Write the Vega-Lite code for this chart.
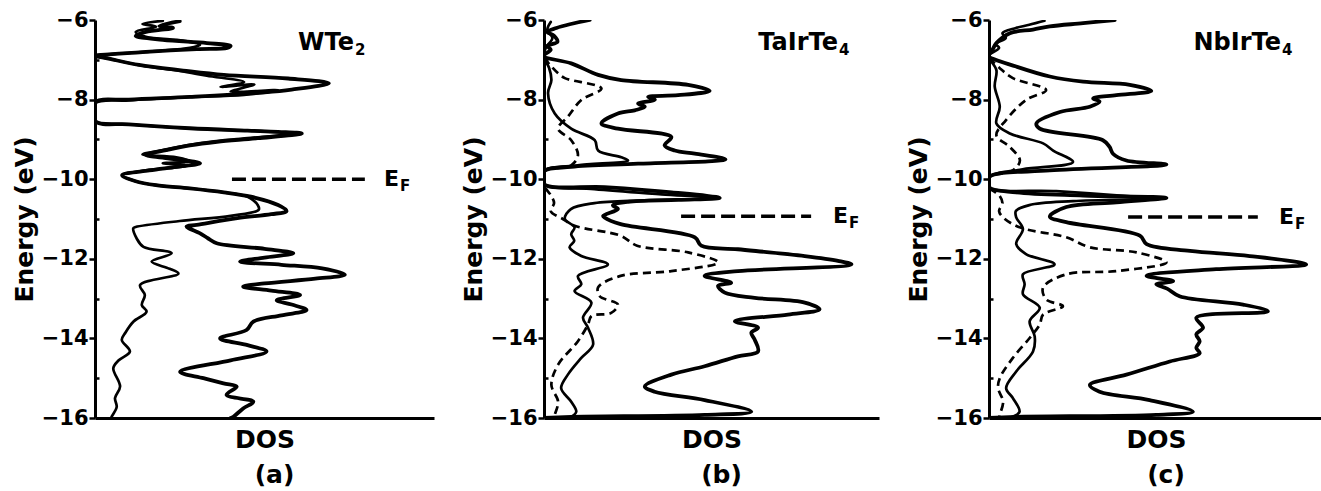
{
"$schema":"https://vega.github.io/schema/vega-lite/v6.json",
"background":"white",
"padding":{"left":12,"top":9,"right":0,"bottom":0},
"bounds":"flush",
"spacing":110,
"config":{"view":{"stroke":null},"font":"DejaVu Sans",
 "axis":{"grid":false,"domainColor":"black","domainWidth":3,"tickColor":"black","tickWidth":2.5,"labelFont":"DejaVu Sans","labelFontWeight":"bold","labelFontSize":21,"labelColor":"black","labelPadding":1,"titleFont":"DejaVu Sans","titleFontWeight":"bold","titleFontSize":25,"titleColor":"black"},
 "title":{"font":"DejaVu Sans","fontWeight":"bold","fontSize":25,"color":"black","orient":"bottom","anchor":"middle","offset":11,"dx":10},
 "line":{"color":"black","strokeJoin":"round","strokeCap":"round"},
 "text":{"color":"black","font":"DejaVu Sans","fontWeight":"bold"}},
"datasets":{
"dos":[
{"p":"a","s":"t","D":25,"E":-6.03},{"p":"a","s":"t","D":19,"E":-6.15},{"p":"a","s":"t","D":23,"E":-6.2},{"p":"a","s":"t","D":15,"E":-6.3},{"p":"a","s":"t","D":12,"E":-6.4},{"p":"a","s":"t","D":20,"E":-6.5},{"p":"a","s":"t","D":33,"E":-6.58},{"p":"a","s":"t","D":40,"E":-6.65},{"p":"a","s":"t","D":39,"E":-6.7},{"p":"a","s":"t","D":30,"E":-6.73},{"p":"a","s":"t","D":15,"E":-6.8},{"p":"a","s":"t","D":5,"E":-6.86},{"p":"a","s":"t","D":0,"E":-6.9},
{"p":"a","s":"t","D":4,"E":-6.97},{"p":"a","s":"t","D":13,"E":-7.13},{"p":"a","s":"t","D":26,"E":-7.27},{"p":"a","s":"t","D":38,"E":-7.38},{"p":"a","s":"t","D":57,"E":-7.47},{"p":"a","s":"t","D":69,"E":-7.59},{"p":"a","s":"t","D":58,"E":-7.75},{"p":"a","s":"t","D":50,"E":-7.82},{"p":"a","s":"t","D":28,"E":-7.93},{"p":"a","s":"t","D":10,"E":-8.0},{"p":"a","s":"t","D":0,"E":-8.07},
{"p":"a","s":"t","D":0,"E":-8.54},{"p":"a","s":"t","D":10,"E":-8.62},{"p":"a","s":"t","D":28,"E":-8.72},{"p":"a","s":"t","D":45,"E":-8.78},{"p":"a","s":"t","D":54,"E":-8.81},{"p":"a","s":"t","D":61,"E":-8.85},{"p":"a","s":"t","D":48,"E":-8.97},{"p":"a","s":"t","D":36,"E":-9.06},{"p":"a","s":"t","D":28,"E":-9.15},{"p":"a","s":"t","D":21,"E":-9.27},{"p":"a","s":"t","D":15,"E":-9.39},{"p":"a","s":"t","D":22,"E":-9.48},{"p":"a","s":"t","D":31,"E":-9.6},{"p":"a","s":"t","D":24,"E":-9.69},{"p":"a","s":"t","D":16,"E":-9.78},{"p":"a","s":"t","D":8,"E":-9.9},
{"p":"a","s":"t","D":12,"E":-10.05},{"p":"a","s":"t","D":18,"E":-10.15},{"p":"a","s":"t","D":28,"E":-10.23},{"p":"a","s":"t","D":38,"E":-10.33},{"p":"a","s":"t","D":46,"E":-10.44},{"p":"a","s":"t","D":54,"E":-10.65},{"p":"a","s":"t","D":56.5,"E":-10.8},{"p":"a","s":"t","D":52,"E":-10.88},{"p":"a","s":"t","D":42,"E":-10.98},{"p":"a","s":"t","D":30,"E":-11.15},{"p":"a","s":"t","D":27,"E":-11.19},{"p":"a","s":"t","D":31,"E":-11.36},{"p":"a","s":"t","D":33.4,"E":-11.49},{"p":"a","s":"t","D":35.9,"E":-11.61},{"p":"a","s":"t","D":50,"E":-11.75},{"p":"a","s":"t","D":58.5,"E":-11.86},{"p":"a","s":"t","D":50,"E":-11.97},{"p":"a","s":"t","D":42.8,"E":-12.07},{"p":"a","s":"t","D":55,"E":-12.15},{"p":"a","s":"t","D":67,"E":-12.24},{"p":"a","s":"t","D":73.7,"E":-12.4},{"p":"a","s":"t","D":65,"E":-12.5},{"p":"a","s":"t","D":50,"E":-12.62},{"p":"a","s":"t","D":43.7,"E":-12.7},{"p":"a","s":"t","D":52,"E":-12.8},{"p":"a","s":"t","D":60.5,"E":-12.91},{"p":"a","s":"t","D":53.6,"E":-13.04},{"p":"a","s":"t","D":58,"E":-13.15},{"p":"a","s":"t","D":62.4,"E":-13.29},{"p":"a","s":"t","D":55,"E":-13.42},{"p":"a","s":"t","D":46.7,"E":-13.58},{"p":"a","s":"t","D":44.7,"E":-13.79},{"p":"a","s":"t","D":36.9,"E":-14.0},{"p":"a","s":"t","D":45,"E":-14.17},{"p":"a","s":"t","D":50.6,"E":-14.33},{"p":"a","s":"t","D":40,"E":-14.55},{"p":"a","s":"t","D":25.1,"E":-14.84},{"p":"a","s":"t","D":32,"E":-15.0},{"p":"a","s":"t","D":37.9,"E":-15.13},{"p":"a","s":"t","D":41.8,"E":-15.21},{"p":"a","s":"t","D":38.8,"E":-15.42},{"p":"a","s":"t","D":46.7,"E":-15.59},{"p":"a","s":"t","D":43.7,"E":-15.76},{"p":"a","s":"t","D":40.8,"E":-15.97},{"p":"a","s":"t","D":40,"E":-16.0},
{"p":"a","s":"i","D":20,"E":-6.02},{"p":"a","s":"i","D":14,"E":-6.1},{"p":"a","s":"i","D":18,"E":-6.17},{"p":"a","s":"i","D":12,"E":-6.3},{"p":"a","s":"i","D":15,"E":-6.42},{"p":"a","s":"i","D":26,"E":-6.52},{"p":"a","s":"i","D":31,"E":-6.62},{"p":"a","s":"i","D":28,"E":-6.7},{"p":"a","s":"i","D":18,"E":-6.78},{"p":"a","s":"i","D":6,"E":-6.85},{"p":"a","s":"i","D":0,"E":-6.9},
{"p":"a","s":"i","D":4,"E":-6.97},{"p":"a","s":"i","D":14,"E":-7.15},{"p":"a","s":"i","D":25,"E":-7.28},{"p":"a","s":"i","D":33,"E":-7.4},{"p":"a","s":"i","D":44,"E":-7.56},{"p":"a","s":"i","D":37,"E":-7.68},{"p":"a","s":"i","D":47,"E":-7.62},{"p":"a","s":"i","D":40,"E":-7.8},{"p":"a","s":"i","D":54,"E":-7.76},{"p":"a","s":"i","D":44,"E":-7.88},{"p":"a","s":"i","D":27,"E":-7.94},{"p":"a","s":"i","D":10,"E":-8.02},{"p":"a","s":"i","D":0,"E":-8.1},
{"p":"a","s":"i","D":0,"E":-8.54},{"p":"a","s":"i","D":10,"E":-8.62},{"p":"a","s":"i","D":27,"E":-8.72},{"p":"a","s":"i","D":50,"E":-8.8},{"p":"a","s":"i","D":58,"E":-8.85},{"p":"a","s":"i","D":45,"E":-8.97},{"p":"a","s":"i","D":34,"E":-9.06},{"p":"a","s":"i","D":27,"E":-9.15},{"p":"a","s":"i","D":20,"E":-9.27},{"p":"a","s":"i","D":14,"E":-9.38},{"p":"a","s":"i","D":24,"E":-9.45},{"p":"a","s":"i","D":28,"E":-9.55},{"p":"a","s":"i","D":20,"E":-9.6},{"p":"a","s":"i","D":27,"E":-9.66},{"p":"a","s":"i","D":15,"E":-9.78},{"p":"a","s":"i","D":8,"E":-9.9},
{"p":"a","s":"i","D":12,"E":-10.05},{"p":"a","s":"i","D":18,"E":-10.15},{"p":"a","s":"i","D":28,"E":-10.23},{"p":"a","s":"i","D":38,"E":-10.33},{"p":"a","s":"i","D":45,"E":-10.44},{"p":"a","s":"i","D":48,"E":-10.65},{"p":"a","s":"i","D":48.3,"E":-10.77},{"p":"a","s":"i","D":40,"E":-10.92},{"p":"a","s":"i","D":25,"E":-11.05},{"p":"a","s":"i","D":12,"E":-11.2},
{"p":"a","s":"i","D":11.3,"E":-11.23},{"p":"a","s":"i","D":12.3,"E":-11.49},{"p":"a","s":"i","D":14.3,"E":-11.7},{"p":"a","s":"i","D":22.6,"E":-11.86},{"p":"a","s":"i","D":16.7,"E":-12.07},{"p":"a","s":"i","D":22,"E":-12.25},{"p":"a","s":"i","D":24.6,"E":-12.37},{"p":"a","s":"i","D":13.3,"E":-12.66},{"p":"a","s":"i","D":14.7,"E":-12.91},{"p":"a","s":"i","D":13.8,"E":-13.16},{"p":"a","s":"i","D":15.2,"E":-13.33},{"p":"a","s":"i","D":11.3,"E":-13.58},{"p":"a","s":"i","D":9,"E":-13.85},{"p":"a","s":"i","D":7.9,"E":-14.04},{"p":"a","s":"i","D":10.3,"E":-14.33},{"p":"a","s":"i","D":7,"E":-14.55},{"p":"a","s":"i","D":5.4,"E":-14.75},{"p":"a","s":"i","D":7.4,"E":-15.21},{"p":"a","s":"i","D":5.9,"E":-15.5},{"p":"a","s":"i","D":6.4,"E":-15.72},{"p":"a","s":"i","D":4.9,"E":-15.97},{"p":"a","s":"i","D":4.8,"E":-16},
{"p":"b","s":"t","D":13.6,"E":-6.0},{"p":"b","s":"t","D":8,"E":-6.1},{"p":"b","s":"t","D":3.7,"E":-6.2},{"p":"b","s":"t","D":1,"E":-6.3},{"p":"b","s":"t","D":3,"E":-6.4},{"p":"b","s":"t","D":4,"E":-6.55},{"p":"b","s":"t","D":1,"E":-6.65},{"p":"b","s":"t","D":2,"E":-6.75},{"p":"b","s":"t","D":0,"E":-6.88},
{"p":"b","s":"t","D":0,"E":-6.92},{"p":"b","s":"t","D":8.1,"E":-7.09},{"p":"b","s":"t","D":16.1,"E":-7.38},{"p":"b","s":"t","D":23,"E":-7.51},{"p":"b","s":"t","D":42.9,"E":-7.63},{"p":"b","s":"t","D":49.3,"E":-7.78},{"p":"b","s":"t","D":39.9,"E":-7.89},{"p":"b","s":"t","D":31,"E":-7.93},{"p":"b","s":"t","D":33,"E":-8.0},{"p":"b","s":"t","D":28,"E":-8.1},{"p":"b","s":"t","D":30,"E":-8.18},{"p":"b","s":"t","D":27,"E":-8.27},{"p":"b","s":"t","D":22,"E":-8.35},{"p":"b","s":"t","D":17.1,"E":-8.6},{"p":"b","s":"t","D":22,"E":-8.73},{"p":"b","s":"t","D":37.9,"E":-8.94},{"p":"b","s":"t","D":35.9,"E":-9.15},{"p":"b","s":"t","D":38.9,"E":-9.28},{"p":"b","s":"t","D":44.9,"E":-9.36},{"p":"b","s":"t","D":54,"E":-9.5},{"p":"b","s":"t","D":28,"E":-9.61},{"p":"b","s":"t","D":8.1,"E":-9.69},{"p":"b","s":"t","D":0,"E":-9.8},
{"p":"b","s":"t","D":0,"E":-10.12},{"p":"b","s":"t","D":18,"E":-10.2},{"p":"b","s":"t","D":38,"E":-10.33},{"p":"b","s":"t","D":52.3,"E":-10.47},{"p":"b","s":"t","D":40,"E":-10.52},{"p":"b","s":"t","D":25,"E":-10.57},{"p":"b","s":"t","D":20.5,"E":-10.66},{"p":"b","s":"t","D":22,"E":-10.75},{"p":"b","s":"t","D":17.6,"E":-10.92},{"p":"b","s":"t","D":18,"E":-10.96},{"p":"b","s":"t","D":22.8,"E":-11.13},{"p":"b","s":"t","D":44.9,"E":-11.46},{"p":"b","s":"t","D":46.8,"E":-11.67},{"p":"b","s":"t","D":57.7,"E":-11.76},{"p":"b","s":"t","D":77.6,"E":-11.93},{"p":"b","s":"t","D":87.5,"E":-12.05},{"p":"b","s":"t","D":91.5,"E":-12.14},{"p":"b","s":"t","D":57.7,"E":-12.31},{"p":"b","s":"t","D":47.8,"E":-12.43},{"p":"b","s":"t","D":55.7,"E":-12.6},{"p":"b","s":"t","D":51.8,"E":-12.68},{"p":"b","s":"t","D":53.8,"E":-12.85},{"p":"b","s":"t","D":62.7,"E":-12.98},{"p":"b","s":"t","D":77.6,"E":-13.1},{"p":"b","s":"t","D":82,"E":-13.27},{"p":"b","s":"t","D":72.6,"E":-13.4},{"p":"b","s":"t","D":56.8,"E":-13.57},{"p":"b","s":"t","D":63.7,"E":-13.73},{"p":"b","s":"t","D":61.7,"E":-13.86},{"p":"b","s":"t","D":62.7,"E":-14.03},{"p":"b","s":"t","D":63.7,"E":-14.33},{"p":"b","s":"t","D":57.7,"E":-14.45},{"p":"b","s":"t","D":47.8,"E":-14.7},{"p":"b","s":"t","D":37.9,"E":-14.91},{"p":"b","s":"t","D":30,"E":-15.21},{"p":"b","s":"t","D":32.9,"E":-15.34},{"p":"b","s":"t","D":47.8,"E":-15.55},{"p":"b","s":"t","D":61.7,"E":-15.84},{"p":"b","s":"t","D":47.8,"E":-15.92},{"p":"b","s":"t","D":8.1,"E":-15.97},{"p":"b","s":"t","D":0,"E":-16},
{"p":"b","s":"i","D":2,"E":-6.05},{"p":"b","s":"i","D":1,"E":-6.25},{"p":"b","s":"i","D":2.5,"E":-6.45},{"p":"b","s":"i","D":0.5,"E":-6.7},{"p":"b","s":"i","D":0,"E":-6.88},
{"p":"b","s":"i","D":0,"E":-6.95},{"p":"b","s":"i","D":1.5,"E":-7.2},{"p":"b","s":"i","D":2.2,"E":-7.51},{"p":"b","s":"i","D":1.2,"E":-7.84},{"p":"b","s":"i","D":3.2,"E":-8.35},{"p":"b","s":"i","D":8.1,"E":-8.73},{"p":"b","s":"i","D":15.1,"E":-9.02},{"p":"b","s":"i","D":16.1,"E":-9.28},{"p":"b","s":"i","D":23,"E":-9.45},{"p":"b","s":"i","D":25,"E":-9.53},{"p":"b","s":"i","D":10,"E":-9.65},{"p":"b","s":"i","D":0,"E":-9.8},
{"p":"b","s":"i","D":0,"E":-10.12},{"p":"b","s":"i","D":15,"E":-10.25},{"p":"b","s":"i","D":35,"E":-10.38},{"p":"b","s":"i","D":50,"E":-10.47},{"p":"b","s":"i","D":30,"E":-10.53},{"p":"b","s":"i","D":15,"E":-10.6},{"p":"b","s":"i","D":8,"E":-10.75},{"p":"b","s":"i","D":6.2,"E":-11.0},{"p":"b","s":"i","D":9.1,"E":-11.21},{"p":"b","s":"i","D":8.1,"E":-11.38},{"p":"b","s":"i","D":9,"E":-11.55},{"p":"b","s":"i","D":7.6,"E":-11.71},{"p":"b","s":"i","D":11.1,"E":-11.93},{"p":"b","s":"i","D":19,"E":-12.14},{"p":"b","s":"i","D":10.1,"E":-12.43},{"p":"b","s":"i","D":11.1,"E":-12.64},{"p":"b","s":"i","D":9.1,"E":-12.81},{"p":"b","s":"i","D":14.1,"E":-13.1},{"p":"b","s":"i","D":11.6,"E":-13.48},{"p":"b","s":"i","D":13.1,"E":-13.73},{"p":"b","s":"i","D":14.6,"E":-14.16},{"p":"b","s":"i","D":11.1,"E":-14.49},{"p":"b","s":"i","D":7.1,"E":-14.91},{"p":"b","s":"i","D":5.1,"E":-15.25},{"p":"b","s":"i","D":8.1,"E":-15.59},{"p":"b","s":"i","D":9.6,"E":-15.84},{"p":"b","s":"i","D":8.1,"E":-15.97},{"p":"b","s":"i","D":7,"E":-16},
{"p":"b","s":"d","D":0,"E":-6.95},{"p":"b","s":"d","D":2,"E":-7.15},{"p":"b","s":"d","D":4.2,"E":-7.34},{"p":"b","s":"d","D":6.2,"E":-7.46},{"p":"b","s":"d","D":17.1,"E":-7.72},{"p":"b","s":"d","D":11.1,"E":-8.01},{"p":"b","s":"d","D":7.1,"E":-8.43},{"p":"b","s":"d","D":4.2,"E":-8.73},{"p":"b","s":"d","D":8.1,"E":-9.02},{"p":"b","s":"d","D":10.1,"E":-9.4},{"p":"b","s":"d","D":8.1,"E":-9.65},{"p":"b","s":"d","D":0,"E":-9.8},
{"p":"b","s":"d","D":0,"E":-10.15},{"p":"b","s":"d","D":2,"E":-10.4},{"p":"b","s":"d","D":3,"E":-10.6},{"p":"b","s":"d","D":2,"E":-10.8},{"p":"b","s":"d","D":5.6,"E":-11.0},{"p":"b","s":"d","D":9.1,"E":-11.17},{"p":"b","s":"d","D":22.8,"E":-11.42},{"p":"b","s":"d","D":27.7,"E":-11.67},{"p":"b","s":"d","D":42.9,"E":-11.84},{"p":"b","s":"d","D":51.8,"E":-12.09},{"p":"b","s":"d","D":37.9,"E":-12.31},{"p":"b","s":"d","D":22.8,"E":-12.43},{"p":"b","s":"d","D":16.1,"E":-12.72},{"p":"b","s":"d","D":16.6,"E":-12.94},{"p":"b","s":"d","D":22,"E":-13.15},{"p":"b","s":"d","D":20,"E":-13.36},{"p":"b","s":"d","D":14.1,"E":-13.44},{"p":"b","s":"d","D":13.1,"E":-13.65},{"p":"b","s":"d","D":10.1,"E":-14.07},{"p":"b","s":"d","D":4.2,"E":-14.66},{"p":"b","s":"d","D":2.2,"E":-15.17},{"p":"b","s":"d","D":4.2,"E":-15.59},{"p":"b","s":"d","D":3.2,"E":-15.92},{"p":"b","s":"d","D":3,"E":-16},
{"p":"c","s":"t","D":37.4,"E":-6.0},{"p":"c","s":"t","D":28,"E":-6.08},{"p":"c","s":"t","D":18.1,"E":-6.16},{"p":"c","s":"t","D":13.1,"E":-6.24},{"p":"c","s":"t","D":6.2,"E":-6.33},{"p":"c","s":"t","D":2.2,"E":-6.58},{"p":"c","s":"t","D":1,"E":-6.75},{"p":"c","s":"t","D":0,"E":-6.88},
{"p":"c","s":"t","D":0,"E":-6.92},{"p":"c","s":"t","D":8.1,"E":-7.17},{"p":"c","s":"t","D":18.1,"E":-7.42},{"p":"c","s":"t","D":28,"E":-7.55},{"p":"c","s":"t","D":41.9,"E":-7.63},{"p":"c","s":"t","D":48.3,"E":-7.78},{"p":"c","s":"t","D":37.9,"E":-7.89},{"p":"c","s":"t","D":31,"E":-7.97},{"p":"c","s":"t","D":32.9,"E":-8.05},{"p":"c","s":"t","D":30,"E":-8.18},{"p":"c","s":"t","D":21.1,"E":-8.31},{"p":"c","s":"t","D":14.1,"E":-8.6},{"p":"c","s":"t","D":15.1,"E":-8.73},{"p":"c","s":"t","D":33.9,"E":-9.02},{"p":"c","s":"t","D":35.9,"E":-9.19},{"p":"c","s":"t","D":36.9,"E":-9.36},{"p":"c","s":"t","D":40.9,"E":-9.53},{"p":"c","s":"t","D":52.8,"E":-9.63},{"p":"c","s":"t","D":18.1,"E":-9.78},{"p":"c","s":"t","D":0,"E":-9.95},
{"p":"c","s":"t","D":0,"E":-10.2},{"p":"c","s":"t","D":8.1,"E":-10.33},{"p":"c","s":"t","D":28,"E":-10.41},{"p":"c","s":"t","D":52.8,"E":-10.47},{"p":"c","s":"t","D":37.9,"E":-10.58},{"p":"c","s":"t","D":23,"E":-10.7},{"p":"c","s":"t","D":18.1,"E":-10.94},{"p":"c","s":"t","D":23,"E":-11.08},{"p":"c","s":"t","D":44.9,"E":-11.42},{"p":"c","s":"t","D":46.9,"E":-11.63},{"p":"c","s":"t","D":59.8,"E":-11.8},{"p":"c","s":"t","D":77.6,"E":-11.93},{"p":"c","s":"t","D":94.4,"E":-12.14},{"p":"c","s":"t","D":67.6,"E":-12.26},{"p":"c","s":"t","D":46.9,"E":-12.43},{"p":"c","s":"t","D":54.8,"E":-12.56},{"p":"c","s":"t","D":49.8,"E":-12.64},{"p":"c","s":"t","D":53,"E":-12.75},{"p":"c","s":"t","D":56.7,"E":-12.94},{"p":"c","s":"t","D":75.6,"E":-13.15},{"p":"c","s":"t","D":83,"E":-13.32},{"p":"c","s":"t","D":61.7,"E":-13.48},{"p":"c","s":"t","D":63.7,"E":-13.73},{"p":"c","s":"t","D":61.7,"E":-13.9},{"p":"c","s":"t","D":62.7,"E":-14.07},{"p":"c","s":"t","D":61.7,"E":-14.24},{"p":"c","s":"t","D":62.7,"E":-14.37},{"p":"c","s":"t","D":53.8,"E":-14.58},{"p":"c","s":"t","D":40.9,"E":-14.91},{"p":"c","s":"t","D":30,"E":-15.17},{"p":"c","s":"t","D":32.9,"E":-15.34},{"p":"c","s":"t","D":47.8,"E":-15.55},{"p":"c","s":"t","D":60.7,"E":-15.84},{"p":"c","s":"t","D":49.8,"E":-15.92},{"p":"c","s":"t","D":8,"E":-15.97},{"p":"c","s":"t","D":0,"E":-16},
{"p":"c","s":"i","D":16.5,"E":-6.02},{"p":"c","s":"i","D":12,"E":-6.12},{"p":"c","s":"i","D":8,"E":-6.2},{"p":"c","s":"i","D":4,"E":-6.33},{"p":"c","s":"i","D":5,"E":-6.45},{"p":"c","s":"i","D":2,"E":-6.6},{"p":"c","s":"i","D":3,"E":-6.7},{"p":"c","s":"i","D":0,"E":-6.88},
{"p":"c","s":"i","D":0,"E":-6.95},{"p":"c","s":"i","D":2.2,"E":-7.26},{"p":"c","s":"i","D":1.7,"E":-7.67},{"p":"c","s":"i","D":3.2,"E":-8.18},{"p":"c","s":"i","D":2.2,"E":-8.6},{"p":"c","s":"i","D":6.2,"E":-8.85},{"p":"c","s":"i","D":16.1,"E":-9.1},{"p":"c","s":"i","D":19.1,"E":-9.28},{"p":"c","s":"i","D":25,"E":-9.57},{"p":"c","s":"i","D":10,"E":-9.75},{"p":"c","s":"i","D":0,"E":-9.95},
{"p":"c","s":"i","D":0,"E":-10.2},{"p":"c","s":"i","D":20,"E":-10.3},{"p":"c","s":"i","D":45,"E":-10.45},{"p":"c","s":"i","D":50,"E":-10.48},{"p":"c","s":"i","D":25,"E":-10.55},{"p":"c","s":"i","D":12,"E":-10.65},{"p":"c","s":"i","D":8,"E":-10.8},{"p":"c","s":"i","D":8.1,"E":-10.96},{"p":"c","s":"i","D":10.1,"E":-11.25},{"p":"c","s":"i","D":8.1,"E":-11.63},{"p":"c","s":"i","D":11,"E":-11.88},{"p":"c","s":"i","D":19.5,"E":-12.14},{"p":"c","s":"i","D":10.1,"E":-12.39},{"p":"c","s":"i","D":10.6,"E":-12.64},{"p":"c","s":"i","D":10.1,"E":-12.89},{"p":"c","s":"i","D":15.1,"E":-13.23},{"p":"c","s":"i","D":12.1,"E":-13.57},{"p":"c","s":"i","D":13.6,"E":-13.95},{"p":"c","s":"i","D":13.1,"E":-14.33},{"p":"c","s":"i","D":8.1,"E":-14.83},{"p":"c","s":"i","D":5.1,"E":-15.25},{"p":"c","s":"i","D":7.1,"E":-15.5},{"p":"c","s":"i","D":9.1,"E":-15.84},{"p":"c","s":"i","D":7.1,"E":-15.97},{"p":"c","s":"i","D":6,"E":-16},
{"p":"c","s":"d","D":0,"E":-6.95},{"p":"c","s":"d","D":3.2,"E":-7.21},{"p":"c","s":"d","D":7.1,"E":-7.46},{"p":"c","s":"d","D":17,"E":-7.76},{"p":"c","s":"d","D":11,"E":-8.01},{"p":"c","s":"d","D":5,"E":-8.52},{"p":"c","s":"d","D":2.2,"E":-8.9},{"p":"c","s":"d","D":6.2,"E":-9.19},{"p":"c","s":"d","D":9.2,"E":-9.53},{"p":"c","s":"d","D":7.1,"E":-9.78},{"p":"c","s":"d","D":0,"E":-9.95},
{"p":"c","s":"d","D":0,"E":-10.2},{"p":"c","s":"d","D":3,"E":-10.4},{"p":"c","s":"d","D":4,"E":-10.6},{"p":"c","s":"d","D":3,"E":-10.8},{"p":"c","s":"d","D":4.2,"E":-10.96},{"p":"c","s":"d","D":9.1,"E":-11.21},{"p":"c","s":"d","D":23,"E":-11.46},{"p":"c","s":"d","D":30,"E":-11.71},{"p":"c","s":"d","D":43.9,"E":-11.84},{"p":"c","s":"d","D":52.8,"E":-12.09},{"p":"c","s":"d","D":37.9,"E":-12.31},{"p":"c","s":"d","D":23,"E":-12.39},{"p":"c","s":"d","D":16.1,"E":-12.72},{"p":"c","s":"d","D":17,"E":-13.02},{"p":"c","s":"d","D":22,"E":-13.19},{"p":"c","s":"d","D":16.1,"E":-13.4},{"p":"c","s":"d","D":15.1,"E":-13.65},{"p":"c","s":"d","D":12.1,"E":-13.99},{"p":"c","s":"d","D":7.1,"E":-14.49},{"p":"c","s":"d","D":3.2,"E":-15.0},{"p":"c","s":"d","D":2.7,"E":-15.25},{"p":"c","s":"d","D":4.2,"E":-15.59},{"p":"c","s":"d","D":3.2,"E":-15.92},{"p":"c","s":"d","D":3,"E":-16}
],
"ef":[
{"p":"a","D":40.4,"E":-10},{"p":"a","D":79.6,"E":-10},
{"p":"b","D":40.8,"E":-10.93},{"p":"b","D":79.5,"E":-10.93},
{"p":"c","D":41.4,"E":-10.95},{"p":"c","D":80,"E":-10.95}
],
"lab":[
{"p":"a","k":"m","t":"WTe","D":76.4,"E":-6.75},{"p":"a","k":"s","t":"2","D":76.4,"E":-6.75},
{"p":"b","k":"m","t":"TaIrTe","D":87.5,"E":-6.76},{"p":"b","k":"s","t":"4","D":87.5,"E":-6.76},
{"p":"c","k":"m","t":"NbIrTe","D":86.9,"E":-6.75},{"p":"c","k":"s","t":"4","D":86.9,"E":-6.75},
{"p":"a","k":"e","t":"E","D":89.7,"E":-10},{"p":"a","k":"f","t":"F","D":89.7,"E":-10},
{"p":"b","k":"e","t":"E","D":90.5,"E":-10.93},{"p":"b","k":"f","t":"F","D":90.5,"E":-10.93},
{"p":"c","k":"e","t":"E","D":90.8,"E":-10.95},{"p":"c","k":"f","t":"F","D":90.8,"E":-10.95}
]
},
"hconcat":[
{"width":339,"height":398,"title":"(a)",
 "encoding":{
  "x":{"field":"D","type":"quantitative","scale":{"domain":[0,100],"nice":false,"zero":false},"axis":{"title":"DOS","ticks":false,"labels":false,"titlePadding":9}},
  "y":{"field":"E","type":"quantitative","scale":{"domain":[-16,-6],"nice":false,"zero":false},"axis":{"title":"Energy (eV)","values":[-6,-7,-8,-9,-10,-11,-12,-13,-14,-15,-16],"format":"d","labelExpr":"datum.value % 2 == 0 ? datum.label : ''","tickSize":{"condition":{"test":"datum.value % 2 == 0","value":6},"value":-4},"titlePadding":4}}},
 "layer":[
  {"data":{"name":"dos"},"transform":[{"filter":"datum.p=='a' && datum.s=='t'"}],"mark":{"type":"line","strokeWidth":3.8,"interpolate":"catmull-rom","clip":true},"encoding":{"order":{"value":null}}},
  {"data":{"name":"dos"},"transform":[{"filter":"datum.p=='a' && datum.s=='i'"}],"mark":{"type":"line","strokeWidth":2.7,"interpolate":"catmull-rom","clip":true},"encoding":{"order":{"value":null}}},
  {"data":{"name":"ef"},"transform":[{"filter":"datum.p=='a'"}],"mark":{"type":"line","strokeWidth":3.5,"strokeDash":[14,6],"strokeCap":"butt"},"encoding":{"order":{"value":null}}},
  {"data":{"name":"lab"},"transform":[{"filter":"datum.p=='a' && datum.k=='m'"}],"mark":{"type":"text","fontSize":24,"align":"right","baseline":"alphabetic"},"encoding":{"text":{"field":"t"}}},
  {"data":{"name":"lab"},"transform":[{"filter":"datum.p=='a' && datum.k=='s'"}],"mark":{"type":"text","fontSize":15,"align":"left","baseline":"alphabetic","dx":1,"dy":5},"encoding":{"text":{"field":"t"}}},
  {"data":{"name":"lab"},"transform":[{"filter":"datum.p=='a' && datum.k=='e'"}],"mark":{"type":"text","fontSize":22,"align":"right","baseline":"middle"},"encoding":{"text":{"field":"t"}}},
  {"data":{"name":"lab"},"transform":[{"filter":"datum.p=='a' && datum.k=='f'"}],"mark":{"type":"text","fontSize":15,"align":"left","baseline":"middle","dx":1,"dy":7},"encoding":{"text":{"field":"t"}}}
 ]},
{"width":335,"height":398,"title":"(b)",
 "encoding":{
  "x":{"field":"D","type":"quantitative","scale":{"domain":[0,99.7],"nice":false,"zero":false},"axis":{"title":"DOS","ticks":false,"labels":false,"titlePadding":9}},
  "y":{"field":"E","type":"quantitative","scale":{"domain":[-16,-6],"nice":false,"zero":false},"axis":{"title":"Energy (eV)","values":[-6,-7,-8,-9,-10,-11,-12,-13,-14,-15,-16],"format":"d","labelExpr":"datum.value % 2 == 0 ? datum.label : ''","tickSize":{"condition":{"test":"datum.value % 2 == 0","value":6},"value":-4},"titlePadding":4}}},
 "layer":[
  {"data":{"name":"dos"},"transform":[{"filter":"datum.p=='b' && datum.s=='t'"}],"mark":{"type":"line","strokeWidth":3.8,"interpolate":"catmull-rom","clip":true},"encoding":{"order":{"value":null}}},
  {"data":{"name":"dos"},"transform":[{"filter":"datum.p=='b' && datum.s=='i'"}],"mark":{"type":"line","strokeWidth":2.7,"interpolate":"catmull-rom","clip":true},"encoding":{"order":{"value":null}}},
  {"data":{"name":"dos"},"transform":[{"filter":"datum.p=='b' && datum.s=='d'"}],"mark":{"type":"line","strokeWidth":2.7,"strokeDash":[8,5],"strokeCap":"butt","interpolate":"catmull-rom","clip":true},"encoding":{"order":{"value":null}}},
  {"data":{"name":"ef"},"transform":[{"filter":"datum.p=='b'"}],"mark":{"type":"line","strokeWidth":3.5,"strokeDash":[14,6],"strokeCap":"butt"},"encoding":{"order":{"value":null}}},
  {"data":{"name":"lab"},"transform":[{"filter":"datum.p=='b' && datum.k=='m'"}],"mark":{"type":"text","fontSize":24,"align":"right","baseline":"alphabetic"},"encoding":{"text":{"field":"t"}}},
  {"data":{"name":"lab"},"transform":[{"filter":"datum.p=='b' && datum.k=='s'"}],"mark":{"type":"text","fontSize":15,"align":"left","baseline":"alphabetic","dx":1,"dy":5},"encoding":{"text":{"field":"t"}}},
  {"data":{"name":"lab"},"transform":[{"filter":"datum.p=='b' && datum.k=='e'"}],"mark":{"type":"text","fontSize":22,"align":"right","baseline":"middle"},"encoding":{"text":{"field":"t"}}},
  {"data":{"name":"lab"},"transform":[{"filter":"datum.p=='b' && datum.k=='f'"}],"mark":{"type":"text","fontSize":15,"align":"left","baseline":"middle","dx":1,"dy":7},"encoding":{"text":{"field":"t"}}}
 ]},
{"width":334,"height":398,"title":"(c)",
 "encoding":{
  "x":{"field":"D","type":"quantitative","scale":{"domain":[0,99.4],"nice":false,"zero":false},"axis":{"title":"DOS","ticks":false,"labels":false,"titlePadding":9}},
  "y":{"field":"E","type":"quantitative","scale":{"domain":[-16,-6],"nice":false,"zero":false},"axis":{"title":"Energy (eV)","values":[-6,-7,-8,-9,-10,-11,-12,-13,-14,-15,-16],"format":"d","labelExpr":"datum.value % 2 == 0 ? datum.label : ''","tickSize":{"condition":{"test":"datum.value % 2 == 0","value":6},"value":-4},"titlePadding":4}}},
 "layer":[
  {"data":{"name":"dos"},"transform":[{"filter":"datum.p=='c' && datum.s=='t'"}],"mark":{"type":"line","strokeWidth":3.8,"interpolate":"catmull-rom","clip":true},"encoding":{"order":{"value":null}}},
  {"data":{"name":"dos"},"transform":[{"filter":"datum.p=='c' && datum.s=='i'"}],"mark":{"type":"line","strokeWidth":2.7,"interpolate":"catmull-rom","clip":true},"encoding":{"order":{"value":null}}},
  {"data":{"name":"dos"},"transform":[{"filter":"datum.p=='c' && datum.s=='d'"}],"mark":{"type":"line","strokeWidth":2.7,"strokeDash":[8,5],"strokeCap":"butt","interpolate":"catmull-rom","clip":true},"encoding":{"order":{"value":null}}},
  {"data":{"name":"ef"},"transform":[{"filter":"datum.p=='c'"}],"mark":{"type":"line","strokeWidth":3.5,"strokeDash":[14,6],"strokeCap":"butt"},"encoding":{"order":{"value":null}}},
  {"data":{"name":"lab"},"transform":[{"filter":"datum.p=='c' && datum.k=='m'"}],"mark":{"type":"text","fontSize":24,"align":"right","baseline":"alphabetic"},"encoding":{"text":{"field":"t"}}},
  {"data":{"name":"lab"},"transform":[{"filter":"datum.p=='c' && datum.k=='s'"}],"mark":{"type":"text","fontSize":15,"align":"left","baseline":"alphabetic","dx":1,"dy":5},"encoding":{"text":{"field":"t"}}},
  {"data":{"name":"lab"},"transform":[{"filter":"datum.p=='c' && datum.k=='e'"}],"mark":{"type":"text","fontSize":22,"align":"right","baseline":"middle"},"encoding":{"text":{"field":"t"}}},
  {"data":{"name":"lab"},"transform":[{"filter":"datum.p=='c' && datum.k=='f'"}],"mark":{"type":"text","fontSize":15,"align":"left","baseline":"middle","dx":1,"dy":7},"encoding":{"text":{"field":"t"}}}
 ]}
]
}
